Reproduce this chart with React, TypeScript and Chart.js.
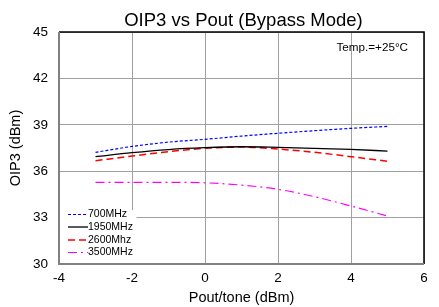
import React, { useEffect, useRef } from "react";
import { Chart, registerables } from "chart.js";

Chart.register(...registerables);

const pout = [-3, -2, -1, 0, 1, 2, 3, 4, 5];
const s700 = [37.22, 37.6, 37.88, 38.06, 38.27, 38.45, 38.62, 38.77, 38.9];
const s1950 = [36.94, 37.2, 37.4, 37.52, 37.58, 37.54, 37.48, 37.41, 37.3];
const s2600 = [36.68, 36.98, 37.26, 37.48, 37.56, 37.43, 37.22, 36.94, 36.64];
const s3500 = [35.28, 35.28, 35.28, 35.25, 35.1, 34.83, 34.35, 33.75, 33.1];
const labels = ["700MHz", "1950MHz", "2600Mhz", "3500MHz"];
const title = "OIP3 vs Pout (Bypass Mode)";
const xTitle = "Pout/tone (dBm)";
const yTitle = "OIP3 (dBm)";
const note = "Temp.=+25°C";

const FONT = "'Liberation Sans', Arial, sans-serif";

const styles = [
  { color: "#0000ff", dash: [3, 2], width: 1.2 },
  { color: "#000000", dash: [], width: 1.3 },
  { color: "#ff0000", dash: [7, 4], width: 1.5 },
  { color: "#ff00ff", dash: [9, 4, 2, 4], width: 1.2 },
];

const overlay = {
  id: "overlay",
  afterDatasetsDraw(chart: any) {
    const ctx = chart.ctx;
    const a = chart.chartArea;
    ctx.save();
    const bx = a.left + 0.5, by = 210, bw = 77, bh = a.bottom - 210;
    ctx.fillStyle = "#ffffff";
    ctx.fillRect(bx, by, bw, bh);
    ctx.font = `10.5px ${FONT}`;
    ctx.textBaseline = "middle";
    ctx.textAlign = "left";
    const ys = [214.5, 227, 240, 252.5];
    labels.forEach((l, i) => {
      const st = styles[i];
      ctx.strokeStyle = st.color;
      ctx.lineWidth = st.width;
      ctx.setLineDash(st.dash);
      ctx.beginPath();
      ctx.moveTo(68, ys[i]);
      ctx.lineTo(88, ys[i]);
      ctx.stroke();
      ctx.setLineDash([]);
      ctx.fillStyle = "#000";
      ctx.fillText(l, 88, ys[i]);
    });
    ctx.restore();
  },
  afterDraw(chart: any) {
    const ctx = chart.ctx;
    const a = chart.chartArea;
    ctx.save();
    ctx.strokeStyle = "#000";
    ctx.lineWidth = 1.5;
    ctx.beginPath();
    ctx.moveTo(a.left, a.top);
    ctx.lineTo(a.right, a.top);
    ctx.lineTo(a.right, a.bottom);
    ctx.stroke();
    ctx.strokeStyle = "#808080";
    ctx.lineWidth = 2;
    ctx.beginPath();
    ctx.moveTo(a.left, a.top);
    ctx.lineTo(a.left, a.bottom);
    ctx.lineTo(a.right, a.bottom);
    ctx.stroke();
    ctx.fillStyle = "#000";
    ctx.textAlign = "center";
    ctx.textBaseline = "middle";
    ctx.font = `18.5px ${FONT}`;
    ctx.fillText(title, (a.left + a.right) / 2 + 2, 21);
    ctx.font = `14.5px ${FONT}`;
    ctx.fillText(xTitle, (a.left + a.right) / 2, 298);
    ctx.save();
    ctx.translate(16, (a.top + a.bottom) / 2);
    ctx.rotate(-Math.PI / 2);
    ctx.fillText(yTitle, 0, 0);
    ctx.restore();
    ctx.font = `11.7px ${FONT}`;
    ctx.textAlign = "right";
    ctx.fillText(note, 408, 48);
    ctx.restore();
  },
};

export default function App() {
  const ref = useRef<HTMLCanvasElement>(null);
  useEffect(() => {
    if (!ref.current) return;
    const series = [s700, s1950, s2600, s3500];
    const chart = new Chart(ref.current, {
      type: "line",
      data: {
        datasets: series.map((s, i) => ({
          label: labels[i],
          data: pout.map((x, j) => ({ x, y: s[j] })),
          borderColor: styles[i].color,
          borderDash: styles[i].dash,
          borderWidth: styles[i].width,
          pointRadius: 0,
          fill: false,
          cubicInterpolationMode: "monotone" as const,
        })),
      },
      plugins: [overlay],
      options: {
        responsive: false,
        animation: false,
        devicePixelRatio: 1,
        layout: { padding: { top: 32, right: 15, left: 0, bottom: 0 } },
        plugins: { legend: { display: false }, title: { display: false }, tooltip: { enabled: false } },
        scales: {
          x: {
            type: "linear",
            min: -4,
            max: 6,
            ticks: { stepSize: 2, color: "#000", font: { family: FONT, size: 13.5 }, padding: 6 },
            grid: { color: "#a0a0a0", lineWidth: 1, drawTicks: false },
            border: { display: false },
            afterFit(s: any) { s.height = 43; },
          },
          y: {
            min: 30,
            max: 45,
            ticks: { stepSize: 3, color: "#000", font: { family: FONT, size: 13.5 }, padding: 11 },
            grid: { color: "#a0a0a0", lineWidth: 1, drawTicks: false },
            border: { display: false },
            afterFit(s: any) { s.width = 59; },
          },
        },
      },
    });
    return () => chart.destroy();
  }, []);
  return (
    <div style={{ position: "fixed", left: 0, top: 0, width: 439, height: 307, background: "#fff" }}>
      <canvas ref={ref} width={439} height={307} style={{ width: 439, height: 307 }} />
    </div>
  );
}
